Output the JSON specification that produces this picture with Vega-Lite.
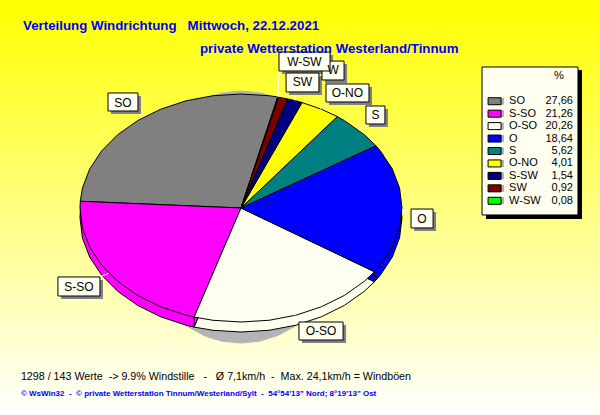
{"$schema":"https://vega.github.io/schema/vega-lite/v6.json","width":600,"height":415,"padding":0,"autosize":{"type":"none"},"background":"#ffffff",
"config":{"view":{"stroke":null},"axis":{"disable":true},"legend":{"disable":true},"text":{"font":"Liberation Sans"}},
"datasets":{
"slices":[{"s":"SO","pct":27.66,"txt":"27,66"},{"s":"S-SO","pct":21.26,"txt":"21,26"},{"s":"O-SO","pct":20.26,"txt":"20,26"},{"s":"O","pct":18.64,"txt":"18,64"},{"s":"S","pct":5.62,"txt":"5,62"},{"s":"O-NO","pct":4.01,"txt":"4,01"},{"s":"S-SW","pct":1.54,"txt":"1,54"},{"s":"SW","pct":0.92,"txt":"0,92"},{"s":"W-SW","pct":0.08,"txt":"0,08"}],
"pie":[
{"s":"SO","i":0,"X":0,"Y":0},{"s":"SO","i":1,"X":22.8,"Y":97.4},{"s":"SO","i":2,"X":17.4,"Y":98.5},{"s":"SO","i":3,"X":0,"Y":100},{"s":"SO","i":4,"X":-17.4,"Y":98.5},{"s":"SO","i":5,"X":-34.2,"Y":94},{"s":"SO","i":6,"X":-50,"Y":86.6},{"s":"SO","i":7,"X":-64.3,"Y":76.6},{"s":"SO","i":8,"X":-76.6,"Y":64.3},{"s":"SO","i":9,"X":-86.6,"Y":50},{"s":"SO","i":10,"X":-94,"Y":34.2},{"s":"SO","i":11,"X":-98.5,"Y":17.4},{"s":"SO","i":12,"X":-99.8,"Y":5.9},{"s":"SO","i":13,"X":0,"Y":0},
{"s":"S-SO","i":0,"X":0,"Y":0},{"s":"S-SO","i":1,"X":-99.8,"Y":5.9},{"s":"S-SO","i":2,"X":-100,"Y":0},{"s":"S-SO","i":3,"X":-98.5,"Y":-17.4},{"s":"S-SO","i":4,"X":-94,"Y":-34.2},{"s":"S-SO","i":5,"X":-86.6,"Y":-50},{"s":"S-SO","i":6,"X":-76.6,"Y":-64.3},{"s":"S-SO","i":7,"X":-64.3,"Y":-76.6},{"s":"S-SO","i":8,"X":-50,"Y":-86.6},{"s":"S-SO","i":9,"X":-34.2,"Y":-94},{"s":"S-SO","i":10,"X":-29.1,"Y":-95.7},{"s":"S-SO","i":11,"X":0,"Y":0},
{"s":"O-SO","i":0,"X":0,"Y":0},{"s":"O-SO","i":1,"X":-29.1,"Y":-95.7},{"s":"O-SO","i":2,"X":-17.4,"Y":-98.5},{"s":"O-SO","i":3,"X":0,"Y":-100},{"s":"O-SO","i":4,"X":17.4,"Y":-98.5},{"s":"O-SO","i":5,"X":34.2,"Y":-94},{"s":"O-SO","i":6,"X":50,"Y":-86.6},{"s":"O-SO","i":7,"X":64.3,"Y":-76.6},{"s":"O-SO","i":8,"X":76.6,"Y":-64.3},{"s":"O-SO","i":9,"X":82.9,"Y":-55.9},{"s":"O-SO","i":10,"X":0,"Y":0},
{"s":"O","i":0,"X":0,"Y":0},{"s":"O","i":1,"X":82.9,"Y":-55.9},{"s":"O","i":2,"X":86.6,"Y":-50},{"s":"O","i":3,"X":94,"Y":-34.2},{"s":"O","i":4,"X":98.5,"Y":-17.4},{"s":"O","i":5,"X":100,"Y":0},{"s":"O","i":6,"X":98.5,"Y":17.4},{"s":"O","i":7,"X":94,"Y":34.2},{"s":"O","i":8,"X":86.6,"Y":50},{"s":"O","i":9,"X":83.8,"Y":54.6},{"s":"O","i":10,"X":0,"Y":0},
{"s":"S","i":0,"X":0,"Y":0},{"s":"S","i":1,"X":83.8,"Y":54.6},{"s":"S","i":2,"X":76.6,"Y":64.3},{"s":"S","i":3,"X":64.3,"Y":76.6},{"s":"S","i":4,"X":59.8,"Y":80.2},{"s":"S","i":5,"X":0,"Y":0},
{"s":"O-NO","i":0,"X":0,"Y":0},{"s":"O-NO","i":1,"X":59.8,"Y":80.2},{"s":"O-NO","i":2,"X":50,"Y":86.6},{"s":"O-NO","i":3,"X":37.9,"Y":92.5},{"s":"O-NO","i":4,"X":0,"Y":0},
{"s":"S-SW","i":0,"X":0,"Y":0},{"s":"S-SW","i":1,"X":37.9,"Y":92.5},{"s":"S-SW","i":2,"X":34.2,"Y":94},{"s":"S-SW","i":3,"X":28.9,"Y":95.7},{"s":"S-SW","i":4,"X":0,"Y":0},
{"s":"SW","i":0,"X":0,"Y":0},{"s":"SW","i":1,"X":28.9,"Y":95.7},{"s":"SW","i":2,"X":23.3,"Y":97.2},{"s":"SW","i":3,"X":0,"Y":0},
{"s":"W-SW","i":0,"X":0,"Y":0},{"s":"W-SW","i":1,"X":23.3,"Y":97.2},{"s":"W-SW","i":2,"X":22.8,"Y":97.4},{"s":"W-SW","i":3,"X":0,"Y":0}
],
"labels":[
{"t":"SO","cx":-73.3,"cy":92.5,"x0":-82.6,"x1":-64,"y0":85.1,"y1":100.9,"lx":-64.6,"ly":85.1,"ax":-61,"ay":80.2},
{"t":"S-SO","cx":-100.6,"cy":-68.9,"x0":-113.7,"x1":-87.6,"y0":-77.2,"y1":-60.5,"lx":-87.6,"ly":-60.5,"ax":-82.1,"ay":-57.1},
{"t":"O-SO","cx":49.7,"cy":-107.9,"x0":36,"x1":63.4,"y0":-115.8,"y1":-100,"lx":36,"ly":-100,"ax":33.4,"ay":-94.3},
{"t":"O","cx":112.4,"cy":-9.6,"x0":105.6,"x1":119.3,"y0":-17.5,"y1":-0.9,"lx":105.6,"ly":-1.8,"ax":100,"ay":-1.8},
{"t":"S","cx":83.5,"cy":81.6,"x0":77.6,"x1":89.4,"y0":73.7,"y1":89.5,"lx":77.6,"ly":73.7,"ax":72.9,"ay":68.5},
{"t":"O-NO","cx":66.1,"cy":100.9,"x0":52.8,"x1":79.5,"y0":93,"y1":108.8,"lx":52.8,"ly":93,"ax":49.2,"ay":87},
{"t":"W","cx":57.2,"cy":121,"x0":50.3,"x1":64,"y0":112.3,"y1":128.9,"lx":50.3,"ly":112.3,"ax":50.3,"ay":112.3},
{"t":"SW","cx":38.2,"cy":110.1,"x0":28,"x1":48.4,"y0":101.8,"y1":118.4,"lx":33.5,"ly":101.8,"ax":33.5,"ay":94.2},
{"t":"W-SW","cx":39.4,"cy":128.5,"x0":23.6,"x1":55.3,"y0":120.2,"y1":136.8,"lx":23.6,"ly":120.2,"ax":23,"ay":97.4}
]},
"resolve":{"scale":{"x":"independent","y":"independent"}},
"layer":[
{"data":{"values":[{"a":-149.69,"b":222.98,"c":-181.58,"d":182.46}]},
 "mark":{"type":"rect","color":{"gradient":"linear","x1":0,"y1":0,"x2":0,"y2":1,"stops":[{"offset":0,"color":"#ffff00"},{"offset":1,"color":"#ffffff"}]}},
 "encoding":{"x":{"field":"a","type":"quantitative","scale":{"domain":[-149.69,222.98],"nice":false,"zero":false}},"x2":{"field":"b"},"y":{"field":"c","type":"quantitative","scale":{"domain":[-181.58,182.46],"nice":false,"zero":false}},"y2":{"field":"d"}}},
{"data":{"name":"pie"},
 "mark":{"type":"line","stroke":"#b4b4b4","strokeWidth":1},
 "encoding":{"x":{"field":"X","type":"quantitative","scale":{"domain":[-223.15,332.4],"nice":false,"zero":false}},"y":{"field":"Y","type":"quantitative","scale":{"domain":[-157.1,172.2],"nice":false,"zero":false}},"order":{"field":"i","type":"quantitative"},"detail":{"field":"s"},"fill":{"value":"#b4b4b4"}}},
{"layer":[
 {"data":{"name":"pie"},
  "mark":{"type":"line","yOffset":10,"stroke":"#000000","strokeWidth":1},
  "encoding":{"x":{"field":"X","type":"quantitative","scale":{"domain":[-149.69,222.98],"nice":false,"zero":false}},"y":{"field":"Y","type":"quantitative","scale":{"domain":[-181.58,182.46],"nice":false,"zero":false}},"order":{"field":"i","type":"quantitative"},"detail":{"field":"s"},"fill":{"field":"s","type":"nominal","scale":{"domain":["SO","S-SO","O-SO","O","S","O-NO","S-SW","SW","W-SW"],"range":["#808080","#ff00ff","#fffff0","#0000ff","#008080","#ffff00","#000080","#800000","#00ff00"]}}}},
 {"data":{"values":[{"X":-29.1,"Y":-95.7,"Y2":-104.5},{"X":82.9,"Y":-55.9,"Y2":-64.7}]},
  "mark":{"type":"rule","stroke":"#000000","strokeWidth":1},
  "encoding":{"x":{"field":"X","type":"quantitative"},"y":{"field":"Y","type":"quantitative"},"y2":{"field":"Y2"}}},
 {"data":{"name":"pie"},
  "mark":{"type":"line","stroke":"#000000","strokeWidth":1},
  "encoding":{"x":{"field":"X","type":"quantitative"},"y":{"field":"Y","type":"quantitative"},"order":{"field":"i","type":"quantitative"},"detail":{"field":"s"},"fill":{"field":"s","type":"nominal"}}},
 {"data":{"name":"labels"},
  "mark":{"type":"rule","stroke":"#ffffff","strokeWidth":1},
  "encoding":{"x":{"field":"lx","type":"quantitative"},"x2":{"field":"ax"},"y":{"field":"ly","type":"quantitative"},"y2":{"field":"ay"}}},
 {"data":{"name":"labels"},"layer":[
  {"mark":{"type":"rect","fill":"#808080","xOffset":3,"x2Offset":3,"yOffset":3,"y2Offset":3},
   "encoding":{"x":{"field":"x0","type":"quantitative"},"x2":{"field":"x1"},"y":{"field":"y0","type":"quantitative"},"y2":{"field":"y1"}}},
  {"mark":{"type":"rect","fill":"#fffff0","stroke":"#000000","strokeWidth":1},
   "encoding":{"x":{"field":"x0","type":"quantitative"},"x2":{"field":"x1"},"y":{"field":"y0","type":"quantitative"},"y2":{"field":"y1"}}},
  {"mark":{"type":"text","fontSize":12,"color":"#000000","align":"center","baseline":"middle"},
   "encoding":{"x":{"field":"cx","type":"quantitative"},"y":{"field":"cy","type":"quantitative"},"text":{"field":"t"}}}
 ]},
 {"data":{"values":[{"n":"legendbox"}]},"layer":[
  {"mark":{"type":"rect","fill":"#000000"},"encoding":{"x":{"datum":152.2,"type":"quantitative"},"x2":{"datum":211.8},"y":{"datum":121,"type":"quantitative"},"y2":{"datum":-9.6}}},
  {"mark":{"type":"rect","fill":"#fffff0","stroke":"#000000","strokeWidth":1},"encoding":{"x":{"datum":149.7,"type":"quantitative"},"x2":{"datum":209.3},"y":{"datum":123.7,"type":"quantitative"},"y2":{"datum":-6.1}}},
  {"mark":{"type":"text","text":"%","fontSize":11,"color":"#000000","align":"center","baseline":"middle"},"encoding":{"x":{"datum":197.5,"type":"quantitative"},"y":{"datum":115.8,"type":"quantitative"}}},
  {"mark":{"type":"text","text":"Verteilung Windrichtung\u00a0\u00a0\u00a0Mittwoch, 22.12.2021","fontSize":13.3,"fontWeight":"bold","color":"#0000ff","align":"left","baseline":"middle"},"encoding":{"x":{"datum":-135.4,"type":"quantitative"},"y":{"datum":159.6,"type":"quantitative"}}},
  {"mark":{"type":"text","text":"private Wetterstation Westerland/Tinnum","fontSize":13.3,"fontWeight":"bold","color":"#0000ff","align":"left","baseline":"middle"},"encoding":{"x":{"datum":-25.5,"type":"quantitative"},"y":{"datum":139.5,"type":"quantitative"}}},
  {"mark":{"type":"text","text":"1298 / 143 Werte\u00a0\u00a0-> 9.9% Windstille\u00a0\u00a0\u00a0-\u00a0\u00a0\u00a0Ø 7,1km/h\u00a0\u00a0-\u00a0\u00a0Max. 24,1km/h = Windböen","fontSize":10.7,"color":"#000000","align":"left","baseline":"middle"},"encoding":{"x":{"datum":-136.7,"type":"quantitative"},"y":{"datum":-148.2,"type":"quantitative"}}},
  {"mark":{"type":"text","text":"© WsWin32\u00a0\u00a0-\u00a0\u00a0© private Wetterstation Tinnum/Westerland/Sylt\u00a0\u00a0-\u00a0\u00a054°54'13\" Nord; 8°19'13\" Ost","fontSize":8,"fontWeight":"bold","color":"#0000ff","align":"left","baseline":"middle"},"encoding":{"x":{"datum":-136.7,"type":"quantitative"},"y":{"datum":-163.2,"type":"quantitative"}}}
 ]}
]},
{"data":{"name":"slices"},"layer":[
 {"mark":{"type":"rect","width":13,"height":7,"fill":"#b4b4b4"},"encoding":{"x":{"datum":159.3,"type":"quantitative","scale":{"domain":[-149.69,222.98],"nice":false,"zero":false}},"y":{"field":"s","type":"nominal","scale":{"type":"point","domain":["SO","S-SO","O-SO","O","S","O-NO","S-SW","SW","W-SW"],"range":[95,207]}}}},
 {"mark":{"type":"rect","width":13,"height":7,"stroke":"#000000","strokeWidth":1},"encoding":{"x":{"datum":157.5,"type":"quantitative"},"y":{"field":"s","type":"nominal","scale":{"type":"point","domain":["SO","S-SO","O-SO","O","S","O-NO","S-SW","SW","W-SW"],"range":[92,204]}},"fill":{"field":"s","type":"nominal"}}},
 {"mark":{"type":"text","fontSize":11,"color":"#000000","align":"left","baseline":"middle"},"encoding":{"x":{"datum":166.5,"type":"quantitative"},"y":{"field":"s","type":"nominal"},"text":{"field":"s"}}},
 {"mark":{"type":"text","fontSize":11,"color":"#000000","align":"right","baseline":"middle"},"encoding":{"x":{"datum":206.2,"type":"quantitative"},"y":{"field":"s","type":"nominal"},"text":{"field":"txt"}}}
]}
]}
